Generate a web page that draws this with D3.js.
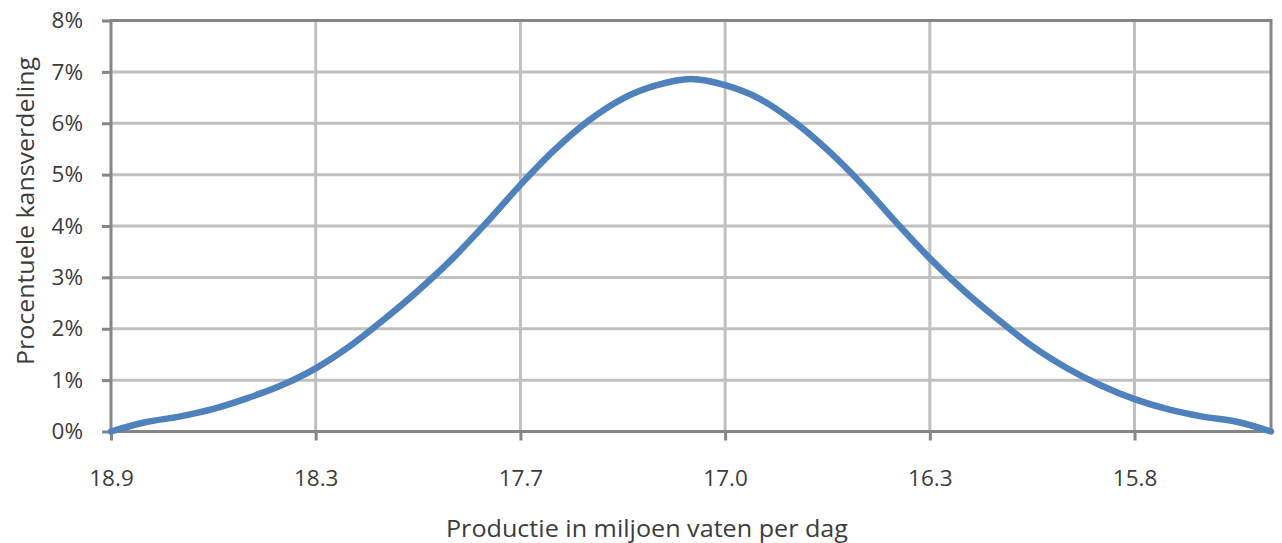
<!DOCTYPE html>
<html>
<head>
<meta charset="utf-8">
<script src="https://cdn.jsdelivr.net/npm/d3@7"></script>
<style>
  html, body { margin: 0; padding: 0; background: #ffffff; }
  svg { display: block; }
  text { font-family: "Open Sans", "Liberation Sans", sans-serif; fill: #3c3c3c; }
</style>
</head>
<body>
<svg id="chart" width="1282" height="543"></svg>
<script>
// Production levels (million barrels per day), one per point on the curve
const categories = [
  "18.9", "18.8", "18.7", "18.6", "18.5", "18.4",
  "18.3", "18.2", "18.1", "18.0", "17.9", "17.8",
  "17.7", "17.6", "17.5", "17.3", "17.2", "17.1",
  "17.0", "16.9", "16.8", "16.6", "16.5", "16.4",
  "16.3", "16.2", "16.1", "16.0", "15.9", "15.9",
  "15.8", "15.7", "15.6", "15.5", "15.4"
];

// Probability distribution in percent for each production level
const probability = [
  0.00, 0.18, 0.29, 0.44, 0.65, 0.90,
  1.23, 1.66, 2.18, 2.74, 3.36, 4.06,
  4.80, 5.48, 6.05, 6.48, 6.74, 6.86,
  6.74, 6.48, 6.04, 5.48, 4.82, 4.08,
  3.37, 2.74, 2.18, 1.66, 1.24, 0.90,
  0.63, 0.43, 0.29, 0.19, 0.00
];

// Category positions that carry a label and a vertical gridline
const xTickIndex = [0, 6, 12, 18, 24, 30];
// Percent gridlines on the value axis
const yTicks = [0, 1, 2, 3, 4, 5, 6, 7, 8];

const xTitle = "Productie in miljoen vaten per dag";
const yTitle = "Procentuele kansverdeling";

const svg = d3.select("#chart");
const plot = { left: 111, right: 1271, top: 20.5, bottom: 431.5 };

const x = d3.scalePoint()
  .domain(d3.range(categories.length))
  .range([plot.left, plot.right]);

const y = d3.scaleLinear()
  .domain([0, 8])
  .range([plot.bottom, plot.top]);

const gridColor = "#c0c0c0";
const axisColor = "#868686";
const textColor = "#3c3c3c";
const fontStack = "'Open Sans', 'Liberation Sans', sans-serif";

// Horizontal gridlines
svg.append("g")
  .selectAll("line")
  .data(yTicks.filter(t => t > 0 && t < 8))
  .join("line")
  .attr("x1", plot.left).attr("x2", plot.right)
  .attr("y1", d => y(d)).attr("y2", d => y(d))
  .attr("stroke", gridColor).attr("stroke-width", 3);

// Vertical gridlines
svg.append("g")
  .selectAll("line")
  .data(xTickIndex.filter(i => i > 0))
  .join("line")
  .attr("x1", d => x(d)).attr("x2", d => x(d))
  .attr("y1", plot.top).attr("y2", plot.bottom)
  .attr("stroke", gridColor).attr("stroke-width", 3);

// Value axis
const yAxis = svg.append("g")
  .attr("transform", `translate(${plot.left},0)`)
  .call(d3.axisLeft(y)
    .tickValues(yTicks)
    .tickFormat(d => d + "%")
    .tickSizeInner(9)
    .tickSizeOuter(0)
    .tickPadding(19));
yAxis.select(".domain").remove();
yAxis.selectAll(".tick line").attr("stroke", axisColor).attr("stroke-width", 3);
yAxis.selectAll(".tick text")
  .attr("font-size", 22.5)
  .attr("fill", textColor)
  .style("font-family", fontStack);

// Category axis
const xAxis = svg.append("g")
  .attr("transform", `translate(0,${plot.bottom})`)
  .call(d3.axisBottom(x)
    .tickValues(xTickIndex)
    .tickFormat(i => categories[i])
    .tickSizeInner(9)
    .tickSizeOuter(0)
    .tickPadding(30));
xAxis.select(".domain").remove();
xAxis.selectAll(".tick line").attr("stroke", axisColor).attr("stroke-width", 3);
xAxis.selectAll(".tick text")
  .attr("font-size", 22.5)
  .attr("fill", textColor)
  .style("font-family", fontStack);

// Plot frame
svg.append("rect")
  .attr("x", plot.left).attr("y", plot.top)
  .attr("width", plot.right - plot.left)
  .attr("height", plot.bottom - plot.top)
  .attr("fill", "none")
  .attr("stroke", axisColor)
  .attr("stroke-width", 3);

// Smoothed distribution curve
const line = d3.line()
  .x((d, i) => x(i))
  .y(d => y(d))
  .curve(d3.curveCatmullRom.alpha(0));

svg.append("path")
  .datum(probability)
  .attr("d", line)
  .attr("fill", "none")
  .attr("stroke", "#4f81bd")
  .attr("stroke-width", 6.5)
  .attr("stroke-linecap", "round")
  .attr("stroke-linejoin", "round");

// Axis titles
svg.append("text")
  .attr("x", 647)
  .attr("y", 537)
  .attr("text-anchor", "middle")
  .attr("font-size", 23)
  .attr("textLength", 402)
  .attr("lengthAdjust", "spacingAndGlyphs")
  .text(xTitle);

svg.append("text")
  .attr("transform", "translate(34,211) rotate(-90)")
  .attr("text-anchor", "middle")
  .attr("font-size", 23)
  .attr("textLength", 308)
  .attr("lengthAdjust", "spacingAndGlyphs")
  .text(yTitle);
</script>
</body>
</html>
